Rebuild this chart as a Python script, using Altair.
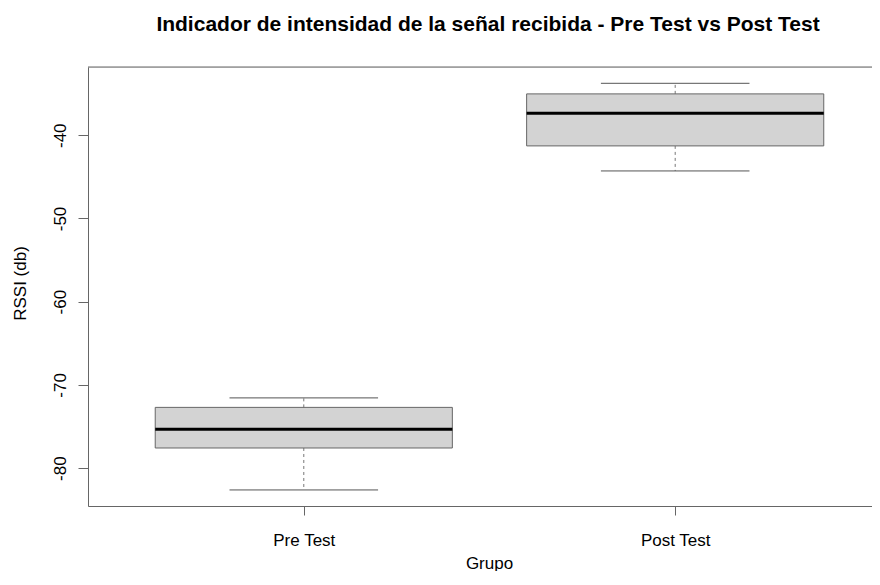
import altair as alt
import pandas as pd

# Data
groups = ["Pre Test", "Post Test"]
positions = [1, 2]
whisker_low = [-82.62, -44.29]
q1 = [-77.58, -41.28]
median = [-75.34, -37.36]
q3 = [-72.70, -35.03]
whisker_high = [-71.56, -33.76]

y_ticks = [-80, -70, -60, -50, -40]

BOX_HALF = 0.4
STAPLE_HALF = 0.2
FONT = "Liberation Sans"
W, H = 784, 439

df = pd.DataFrame({
    "grupo": groups,
    "pos": positions,
    "wlo": whisker_low,
    "q1": q1,
    "med": median,
    "q3": q3,
    "whi": whisker_high,
})
df["bx1"] = df["pos"] - BOX_HALF
df["bx2"] = df["pos"] + BOX_HALF
df["sx1"] = df["pos"] - STAPLE_HALF
df["sx2"] = df["pos"] + STAPLE_HALF

label_expr = " : ".join(
    [f"datum.value == {p} ? '{g}'" for p, g in zip(positions[:-1], groups[:-1])]
    + [f"'{groups[-1]}'"]
)

xscale = alt.Scale(domain=[0.419, 2.5299], nice=False, zero=False)
yscale = alt.Scale(domain=[-84.55, -31.80], nice=False, zero=False)

xaxis = alt.Axis(
    values=positions, labelExpr=label_expr, grid=False,
    domainColor="#666666", tickColor="#666666", tickSize=9,
    labelFont=FONT, labelFontSize=17, labelColor="#000000",
    labelBaseline="alphabetic", labelPadding=30, labelAlign="center",
    title="Grupo", titleFont=FONT, titleFontSize=17, titleFontWeight="normal",
    titleColor="#000000", titleBaseline="alphabetic", titleY=62, titleX=401,
    titleAlign="center",
)
yaxis = alt.Axis(
    values=y_ticks, grid=False, labelExpr="'' + datum.value",
    domainColor="#666666", tickColor="#666666", tickSize=10,
    labelFont=FONT, labelFontSize=17, labelColor="#000000",
    labelAngle=270, labelAlign="center", labelBaseline="alphabetic",
    labelPadding=13,
    title="RSSI (db)", titleFont=FONT, titleFontSize=17, titleFontWeight="normal",
    titleColor="#000000", titleAngle=270, titleBaseline="alphabetic",
    titleX=-63, titleY=216, titleAlign="center",
)

base = alt.Chart(df)

whisk_hi = base.mark_rule(color="#777777", strokeWidth=1, strokeDash=[3, 3]).encode(
    x=alt.X("pos:Q", scale=xscale, axis=xaxis),
    y=alt.Y("q3:Q", scale=yscale, axis=yaxis),
    y2="whi:Q",
)
whisk_lo = base.mark_rule(color="#777777", strokeWidth=1, strokeDash=[3, 3]).encode(
    x=alt.X("pos:Q", scale=xscale),
    y=alt.Y("q1:Q", scale=yscale),
    y2="wlo:Q",
)
staple_hi = base.mark_rule(color="#555555", strokeWidth=1).encode(
    x=alt.X("sx1:Q", scale=xscale), x2="sx2:Q",
    y=alt.Y("whi:Q", scale=yscale),
)
staple_lo = base.mark_rule(color="#555555", strokeWidth=1).encode(
    x=alt.X("sx1:Q", scale=xscale), x2="sx2:Q",
    y=alt.Y("wlo:Q", scale=yscale),
)
box = base.mark_rect(fill="#D3D3D3", stroke="#666666", strokeWidth=1).encode(
    x=alt.X("bx1:Q", scale=xscale), x2="bx2:Q",
    y=alt.Y("q1:Q", scale=yscale), y2="q3:Q",
)
med = base.mark_rule(color="#000000", strokeWidth=3).encode(
    x=alt.X("bx1:Q", scale=xscale), x2="bx2:Q",
    y=alt.Y("med:Q", scale=yscale),
)
top_border = alt.Chart(pd.DataFrame({"a": [0]})).mark_rule(
    color="#666666", strokeWidth=1
).encode(x=alt.value(0), x2=alt.value(W), y=alt.value(0))

chart = alt.layer(
    whisk_hi, whisk_lo, staple_hi, staple_lo, box, med, top_border
).properties(
    width=W, height=H,
    title=alt.TitleParams(
        "Indicador de intensidad de la señal recibida - Pre Test vs Post Test",
        font=FONT, fontSize=21, fontWeight="bold", color="#000000",
        anchor="middle", frame="group", baseline="alphabetic", offset=15, dx=8,
    ),
    autosize=alt.AutoSizeParams(type="none"),
    padding={"left": 80, "top": 59, "right": 0, "bottom": 65},
).configure_view(stroke=None).configure(background="#FFFFFF")

chart.save("out.html", embed_options={"renderer": "svg", "actions": False})
